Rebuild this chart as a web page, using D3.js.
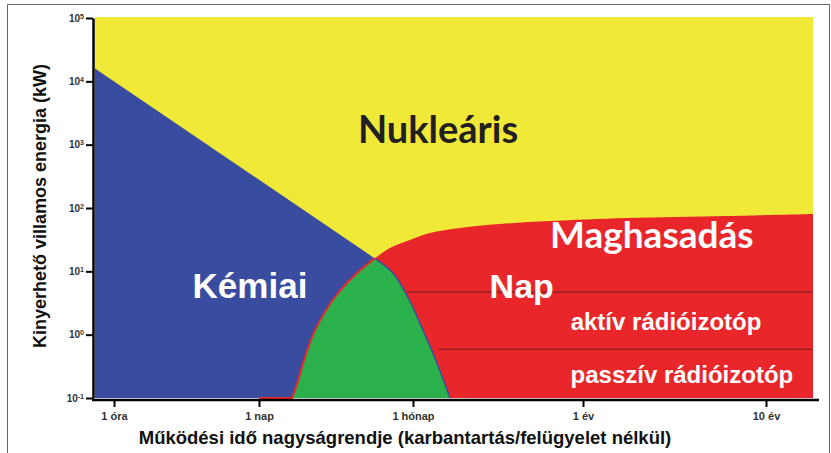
<!DOCTYPE html>
<html>
<head>
<meta charset="utf-8">
<script src="https://cdn.jsdelivr.net/npm/d3@7"></script>
<style>
  body { margin: 0; background: #fff; }
  svg text { font-family: "Liberation Sans", Arial, sans-serif; }
</style>
</head>
<body>
<div id="chart"></div>
<script>
// time in hours, energy in kW
var timeTicks = [1, 24, 720, 8760, 87600];
var timeTickLabels = ["1 óra", "1 nap", "1 hónap", "1 év", "10 év"];
var powerTicks = [0.1, 1, 10, 100, 1000, 10000, 100000];
var powerExp = ["-1", "0", "1", "2", "3", "4", "5"];

var timeMin = 0.66, timeMax = 158000;
var powerMin = 0.1, powerMax = 100000;

// boundary between chemical (blue) and nuclear (yellow)
var chemTop = [[0.66, 16000], [310, 16]];
// left side of the green lobe, bottom -> junction
var greenLeft = [[50, 0.1], [57, 0.19], [65, 0.4], [83, 1.19], [128, 3.9], [209, 9.4], [310, 16]];
// right side of the green lobe, junction -> bottom
var greenRight = [[310, 16], [462, 9.4], [644, 3.9], [833, 1.19], [1023, 0.36], [1240, 0.1]];
// top of the red (fission / solar / isotopes) area
var redTop = [[310, 16], [432, 23.4], [673, 31.3], [922, 40.3], [1436, 48.3], [2580, 55.9],
              [5380, 62.3], [15200, 69.6], [53600, 74.8], [158000, 80.4]];
// thin divider lines inside the red area: [power, start time]
var redDividers = [[4.7, 630], [0.59, 1050]];

var regionLabels = [
  { text: "Nukleáris", t: 1040, p: 1060, size: 38, color: "#231f20", font: "Lato" },
  { text: "Maghasadás", t: 20800, p: 23.4, size: 37, color: "#fff", font: "Lato" },
  { text: "Kémiai", t: 19.7, p: 3.8, size: 35, color: "#fff", font: "Liberation Sans" },
  { text: "Nap", t: 3560, p: 3.8, size: 34, color: "#fff", font: "Liberation Sans" },
  { text: "aktív rádióizotóp", t: 24900, p: 1.19, size: 24, color: "#fff", font: "Liberation Sans" },
  { text: "passzív rádióizotóp", t: 30400, p: 0.173, size: 24, color: "#fff", font: "Liberation Sans" }
];

var width = 831, height = 453;

var svg = d3.select("#chart").append("svg")
  .attr("width", width)
  .attr("height", height);

// frame
svg.append("path")
  .attr("d", "M7.5,453 V4.5 H829.5 V453")
  .attr("fill", "none")
  .attr("stroke", "#666")
  .attr("stroke-width", 1);

// time axis is log but not evenly spaced between the named ticks
var x = d3.scaleLog()
  .domain([timeMin].concat(timeTicks, [timeMax]))
  .range([95, 114, 259, 413, 583, 766, 813]);

var y = d3.scaleLog()
  .domain([powerMin, powerMax])
  .range([398, 18]);

var line = d3.line()
  .x(function(d) { return x(d[0]); })
  .y(function(d) { return y(d[1]); });

var curve = d3.line()
  .x(function(d) { return x(d[0]); })
  .y(function(d) { return y(d[1]); })
  .curve(d3.curveCatmullRom.alpha(0.5));

function rev(a) { return a.slice().reverse(); }
function cont(a) { return curve(a).replace(/^M/, "L"); }
function pt(d) { return "L" + x(d[0]) + "," + y(d[1]); }

var yellow = "#f0e938", blue = "#3a4ca0", red = "#e9272b", green = "#2bb14c";

// nuclear - whole plot
svg.append("path")
  .attr("d", line([[timeMin, powerMax], [timeMax, powerMax], [timeMax, powerMin], [timeMin, powerMin]]) + "Z")
  .attr("transform", "translate(0,-1)")
  .attr("fill", yellow);

// chemical
svg.append("path")
  .attr("d", line(chemTop) + cont(rev(greenLeft)) + pt([timeMin, powerMin]) + "Z")
  .attr("fill", blue);

// red area
svg.append("path")
  .attr("d", curve(redTop) + pt([timeMax, powerMin]) + cont(rev(greenRight)) + "Z")
  .attr("fill", red);

// green lobe
svg.append("path")
  .attr("d", curve(greenLeft) + cont(greenRight) + "Z")
  .attr("fill", green);

svg.append("path")
  .attr("d", line([[24, powerMin], greenLeft[0]]) + cont(greenLeft))
  .attr("fill", "none")
  .attr("stroke", red)
  .attr("stroke-width", 2);

svg.append("path")
  .attr("d", curve(greenRight))
  .attr("fill", "none")
  .attr("stroke", blue)
  .attr("stroke-width", 1.5);

// dividers in red
redDividers.forEach(function(d) {
  svg.append("line")
    .attr("x1", x(d[1]))
    .attr("x2", x(timeMax))
    .attr("y1", y(d[0]))
    .attr("y2", y(d[0]))
    .attr("stroke", "#6b1a1a")
    .attr("stroke-width", 1);
});

// labels
regionLabels.forEach(function(d) {
  svg.append("text")
    .attr("x", x(d.t))
    .attr("y", y(d.p))
    .attr("text-anchor", "middle")
    .attr("fill", d.color)
    .style("font-family", d.font)
    .style("font-weight", "bold")
    .style("font-size", d.size + "px")
    .text(d.text);
});

// y axis
var yAxis = svg.append("g")
  .attr("transform", "translate(93,0)")
  .call(d3.axisLeft(y).tickValues(powerTicks).tickSize(7).tickSizeOuter(0).tickFormat(""));

yAxis.select(".domain").attr("stroke", "#000").attr("stroke-width", 2.5);
yAxis.selectAll(".tick line").attr("stroke", "#000").attr("stroke-width", 2);

yAxis.selectAll(".tick").each(function(d, i) {
  var t = d3.select(this).append("text")
    .attr("x", -9)
    .attr("dy", "0.32em")
    .attr("text-anchor", "end")
    .attr("fill", "#333")
    .style("font-size", "10px")
    .style("font-weight", "bold");
  t.append("tspan").text("10");
  t.append("tspan").attr("dy", "-0.45em").style("font-size", "7px").text(powerExp[i]);
});

// x axis
var xAxis = svg.append("g")
  .attr("transform", "translate(0,400)")
  .call(d3.axisBottom(x).tickValues(timeTicks).tickSize(7).tickSizeOuter(0)
    .tickFormat(function(d, i) { return timeTickLabels[i]; }));

xAxis.select(".domain").remove();
xAxis.append("line")
  .attr("x1", 92).attr("x2", 819)
  .attr("stroke", "#000").attr("stroke-width", 2.5);
xAxis.selectAll(".tick line").attr("stroke", "#000").attr("stroke-width", 2);
xAxis.selectAll(".tick text")
  .attr("y", 12)
  .attr("fill", "#333")
  .style("font-family", "'Liberation Sans Narrow', 'Liberation Sans', Arial")
  .style("font-size", "11px")
  .style("font-weight", "bold");

// axis titles
svg.append("text")
  .attr("transform", "translate(46,206) rotate(-90)")
  .attr("text-anchor", "middle")
  .attr("fill", "#111")
  .style("font-size", "18px")
  .style("font-weight", "bold")
  .text("Kinyerhető villamos energia (kW)");

svg.append("text")
  .attr("x", 405)
  .attr("y", 444)
  .attr("text-anchor", "middle")
  .attr("fill", "#111")
  .style("font-size", "18.5px")
  .style("font-weight", "bold")
  .text("Működési idő nagyságrendje (karbantartás/felügyelet nélkül)");
</script>
</body>
</html>
